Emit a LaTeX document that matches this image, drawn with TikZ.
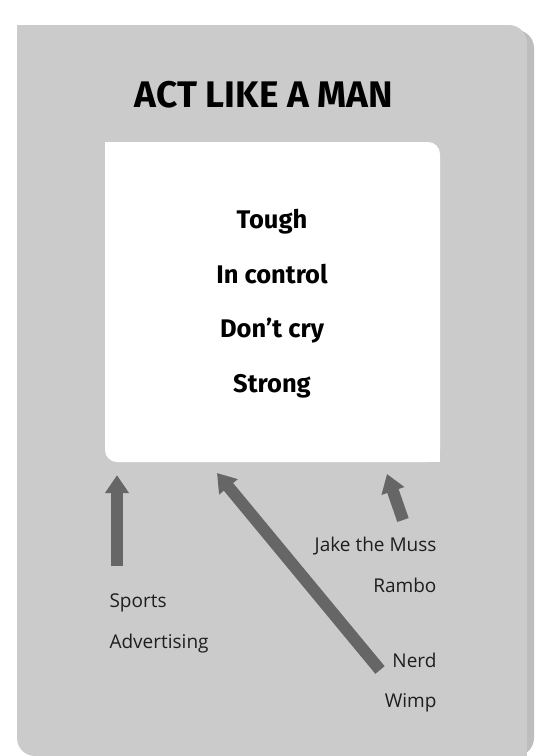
\documentclass[tikz,border=0pt]{standalone}
\usepackage{fontspec}
\setmainfont{Open Sans}
\newfontfamily\headfont{Fira Sans}
\usepackage{xcolor}
\usepackage{tikz}
\usetikzlibrary{arrows.meta, positioning}

\definecolor{panelgrey}{HTML}{CBCBCB}
\definecolor{shadowgrey}{HTML}{BDBDBD}
\definecolor{pushgrey}{HTML}{666666}
\definecolor{tagink}{HTML}{1E1E1E}

\begin{document}
\begin{tikzpicture}[
  x=1pt, y=-1pt,
  headline/.style={font=\headfont\bfseries\fontsize{37}{40}\selectfont, anchor=base},
  trait/.style={font=\headfont\bfseries\fontsize{25.5}{30}\selectfont, anchor=base},
  tag/.style={font=\fontsize{19}{22}\selectfont, text=tagink},
  board/.style={fill=white, rounded corners=12pt, minimum width=335pt, minimum height=320pt, inner sep=0pt},
  pusher/.style={-{Triangle[width=23pt, length=18pt]}, line width=12pt, draw=pushgrey}
]
  \useasboundingbox (0,0) rectangle (536,756);

  % grey panel with its shadow
  \fill[shadowgrey, rounded corners=18pt] (22,30) rectangle (534,756);
  \fill[panelgrey, rounded corners=18pt] (17,25) rectangle (527,756);
  \fill[panelgrey] (17,25) rectangle (45,55);
  \fill[panelgrey] (527,756) rectangle (500,720);

  \node[headline] (title) at (264,107) {ACT LIKE A MAN};

  % white board, two sharp corners
  \node[board] (board) at (272.5,302) {};
  \fill[white] (board.north west) rectangle ++(20pt,-20pt);
  \fill[white] (board.south east) rectangle ++(-20pt,20pt);

  \node[trait] (tough) at (272,228) {Tough};
  \node[trait] (control) at ([yshift=-55pt]tough.base) {In control};
  \node[trait] (nocry) at ([yshift=-54pt]control.base) {Don’t cry};
  \node[trait] (strong) at ([yshift=-55pt]nocry.base) {Strong};

  % influences
  \node[tag, anchor=base west] (sports) at (106,607) {Sports};
  \node[tag, anchor=base west] (advert) at (106,648) {Advertising};
  \node[tag, anchor=base east] (jake) at (440,551) {Jake the Muss};
  \node[tag, anchor=base east] (rambo) at (440,592) {Rambo};
  \node[tag, anchor=base east] (nerd) at (440,667) {Nerd};
  \node[tag, anchor=base east] (wimp) at (440,707) {Wimp};

  \coordinate (sportsfoot) at (117,566);
  \coordinate (nerdfoot) at (380,670);
  \coordinate (nerdtip) at (217,473);
  \coordinate (jakefoot) at (403,520);
  \coordinate (jaketip) at (387,474);

  \draw[pusher, shorten >=13pt] (sportsfoot) -- (sportsfoot |- board.south);
  \draw[pusher] (nerdfoot) -- (nerdtip);
  \draw[pusher] (jakefoot) -- (jaketip);
\end{tikzpicture}
\end{document}
